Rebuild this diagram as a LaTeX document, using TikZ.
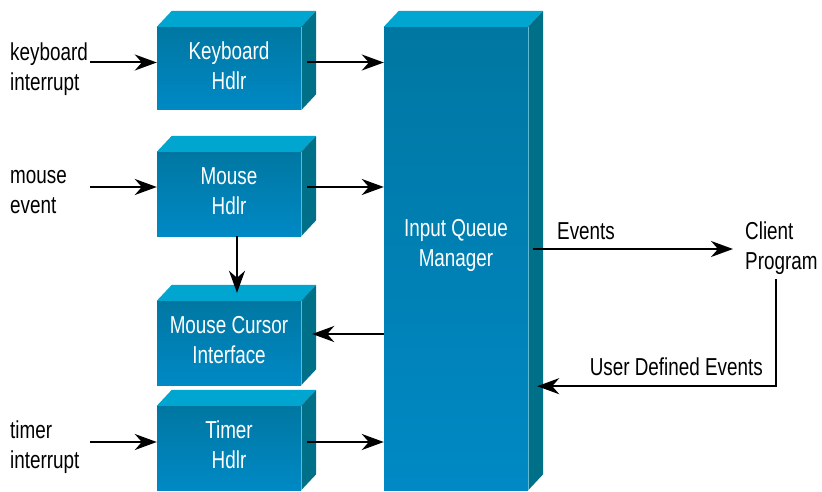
\documentclass[tikz,border=0pt]{standalone}
\usepackage{fontspec}
\setmainfont{Liberation Sans}[FakeStretch=0.77]
\usetikzlibrary{arrows.meta,calc}

\definecolor{frontA}{RGB}{0,119,162}
\definecolor{frontB}{RGB}{0,137,197}
\definecolor{topface}{RGB}{0,166,208}
\definecolor{sideface}{RGB}{0,111,136}
\definecolor{edgeline}{RGB}{95,185,210}

\newcommand\lblfont{\fontsize{24.5}{30}\selectfont}
% invisible rule that fixes line height/depth for vertical centring
\newcommand\tstrut{\rule[-6pt]{0pt}{30pt}}

% top and right faces of a block whose front face is node #1
\newcommand\boxfaces[1]{%
  \fill[topface] (#1.north west) -- ++(15,-16) -- ($(#1.north east)+(15,-16)$) -- (#1.north east) -- cycle;
  \fill[sideface] (#1.north east) -- ++(15,-16) -- ($(#1.south east)+(15,-16)$) -- (#1.south east) -- cycle;
  \draw[edgeline, line width=0.7pt] (#1.north east) -- (#1.south east);
}

\tikzset{
  strutted/.style={execute at begin node=\tstrut, execute at end node=\tstrut},
  boxtext/.style={font=\lblfont, text=white, align=center, inner sep=0pt, strutted},
  cube/.style={boxtext, draw=none, minimum width=144pt, top color=frontA, bottom color=frontB},
  sidetext/.style={font=\lblfont, text=black, align=left, text width=80pt, inner sep=0pt, strutted},
  plaintext/.style={font=\lblfont, text=black, inner sep=0pt},
  tip/.style={-{Stealth[length=22pt,width=16pt,inset=7pt]}},
  arr/.style={line width=2pt, tip}
}

\begin{document}
\begin{tikzpicture}[x=1pt, y=-1pt]
\useasboundingbox (0,0) rectangle (822,492);

% handler blocks
\node[cube, minimum height=83pt] (kb) at (229,68.5) {Keyboard\\Hdlr};
\boxfaces{kb}
\node[cube, minimum height=84pt] (mh) at (229,194) {Mouse\\Hdlr};
\boxfaces{mh}
\node[cube, minimum height=84pt] (mc) at (229,343) {Mouse Cursor\\Interface};
\boxfaces{mc}
\node[cube, minimum height=84pt] (th) at (229,448) {Timer\\Hdlr};
\boxfaces{th}

% queue manager column
\node[draw=none, inner sep=0pt, minimum width=144pt, minimum height=463pt,
      top color=frontA, bottom color=frontB,
      label={[boxtext, yshift=12.5pt]center:Input Queue\\Manager}] (iqm) at (456,258.5) {};
\boxfaces{iqm}

% input labels
\node[sidetext, anchor=west] (kbl) at (10,67) {keyboard\\interrupt};
\node[sidetext, anchor=west] (mel) at (10,189) {mouse\\event};
\node[sidetext, anchor=west] (til) at (10,444) {timer\\interrupt};

% client side
\node[plaintext, align=left, strutted, anchor=west] (cp) at (745,249) {Client\\Program};
\node[plaintext, anchor=base west] (ev) at (557,239) {Events};
\node[plaintext, anchor=base east] (ud) at (763,375) {User Defined Events};

% arrow heights on each block
\coordinate (kbA) at ($(kb.west)+(0,-6)$);
\coordinate (mhA) at ($(mh.west)+(0,-7)$);
\coordinate (mcA) at ($(mc.west)+(0,-9)$);
\coordinate (thA) at ($(th.west)+(0,-6)$);

% inputs into the handlers
\draw[arr] (kbl.east |- kbA) -- (kbA);
\draw[arr] (mel.east |- mhA) -- (mhA);
\draw[arr] (til.east |- thA) -- (thA);

% handlers into the queue manager
\draw[arr] ($(kb.east |- kbA)+(6,0)$) -- (iqm.west |- kbA);
\draw[arr] ($(mh.east |- mhA)+(6,0)$) -- (iqm.west |- mhA);
\draw[arr] ($(th.east |- thA)+(6,0)$) -- (iqm.west |- thA);

% queue manager back to the cursor interface
\draw[arr] (iqm.west |- mcA) -- ($(mc.east |- mcA)+(11,0)$);

% mouse handler down to the cursor interface
\draw[arr] ($(mh.south)+(8,0)$) -- ($(mc.north)+(8,-8)$);

% events out to the client and back
\draw[arr] ($(iqm.east |- cp.west)+(5,0)$) -- ($(cp.west)+(-12,0)$);
\coordinate (udIn) at ($(iqm.south east)+(9,-104)$);
\draw[arr] ($(cp.south)+(-5,3)$) |- (udIn);
\end{tikzpicture}
\end{document}
